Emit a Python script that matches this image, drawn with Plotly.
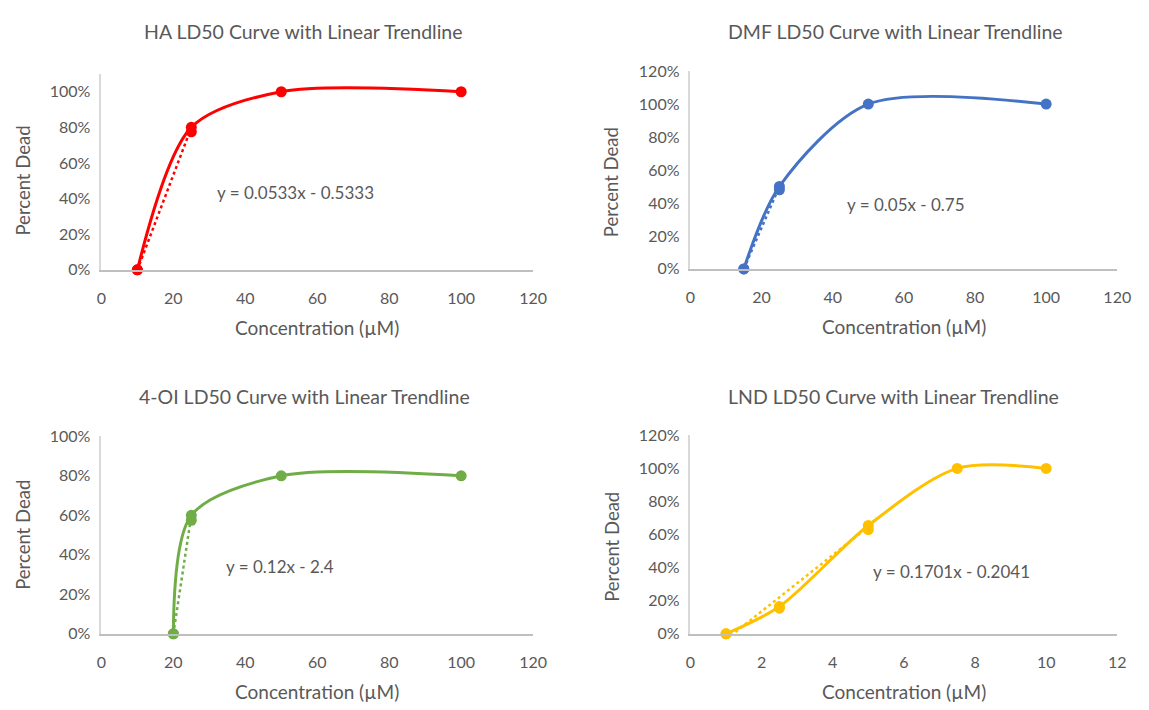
import plotly.graph_objects as go
import numpy as np

# ---------------- data ----------------
titles = ["HA LD50 Curve with Linear Trendline",
          "DMF LD50 Curve with Linear Trendline",
          "4-OI LD50 Curve with Linear Trendline",
          "LND LD50 Curve with Linear Trendline"]
colors = ["#FF0000", "#4472C4", "#70AD47", "#FFC000"]

ha_x = [10, 25, 50, 100]
ha_y = [0.0, 0.80, 1.0, 1.0]
ha_trend_x = [10, 25]
ha_trend_y = [0.0, 0.775]

dmf_x = [15, 25, 50, 100]
dmf_y = [0.0, 0.50, 1.0, 1.0]
dmf_trend_x = [15, 25]
dmf_trend_y = [0.0, 0.48]

oi_x = [20, 25, 50, 100]
oi_y = [0.0, 0.60, 0.80, 0.80]
oi_trend_x = [20, 25]
oi_trend_y = [0.0, 0.575]

lnd_x = [1, 2.5, 5, 7.5, 10]
lnd_y = [0.0, 0.165, 0.655, 1.0, 1.0]
lnd_trend_x = [1, 2.5, 5]
lnd_trend_y = [0.0, 0.155, 0.630]

slopes = [0.0533, 0.05, 0.12, 0.1701]
intercepts = [-0.5333, -0.75, -2.4, -0.2041]
equations = ["y = 0.0533x - 0.5333", "y = 0.05x - 0.75",
             "y = 0.12x - 2.4", "y = 0.1701x - 0.2041"]

x_ranges = [[0, 120], [0, 120], [0, 120], [0, 12]]
x_dticks = [20, 20, 20, 2]
y_ranges = [[0, 1.1], [0, 1.2], [0, 1.0], [0, 1.2]]
y_tickvals = [[0, .2, .4, .6, .8, 1.0],
              [0, .2, .4, .6, .8, 1.0, 1.2],
              [0, .2, .4, .6, .8, 1.0],
              [0, .2, .4, .6, .8, 1.0, 1.2]]
eq_pos = [(54, 0.437), (60.6, 0.39), (49.7, 0.34), (7.35, 0.376)]

series = [(ha_x, ha_y, ha_trend_x, ha_trend_y),
          (dmf_x, dmf_y, dmf_trend_x, dmf_trend_y),
          (oi_x, oi_y, oi_trend_x, oi_trend_y),
          (lnd_x, lnd_y, lnd_trend_x, lnd_trend_y)]

# ---------------- layout geometry (pixels) ----------------
W, H = 1149, 710
# plot area: x-left, x-right, y-pixel of value 0, pixels per unit y
areas = [(98, 537, 267, 183), (697, 1131, 266, 169.3),
         (98, 537, 641, 203), (697, 1131, 641, 170)]
title_pos = [(304, 22), (905, 22), (305, 397), (903, 397)]

FONT = "Lato, Calibri, Carlito, sans-serif"
GRAY = "#595959"

fig = go.Figure()
annotations = []
layout = {}

for i in range(4):
    n = "" if i == 0 else str(i + 1)
    xa, ya = "x" + n, "y" + n
    xs, ys, tx, ty = series[i]
    c = colors[i]
    # smoothed curve with markers
    fig.add_trace(go.Scatter(x=xs, y=ys, mode="lines+markers", xaxis=xa, yaxis=ya,
                             line=dict(color=c, width=3, shape="spline", smoothing=0.85),
                             marker=dict(color=c, size=11), cliponaxis=False,
                             showlegend=False, hoverinfo="x+y"))
    # trendline series markers
    fig.add_trace(go.Scatter(x=tx, y=ty, mode="markers", xaxis=xa, yaxis=ya,
                             marker=dict(color=c, size=11), cliponaxis=False,
                             showlegend=False))
    # linear trendline (dotted)
    lx = np.array([min(tx), max(tx)])
    ly = slopes[i] * lx + intercepts[i]
    fig.add_trace(go.Scatter(x=lx, y=ly, mode="lines", xaxis=xa, yaxis=ya,
                             line=dict(color=c, width=2.5, dash="dot"),
                             showlegend=False))

    xl, xr, y0, ppu = areas[i]
    ytop = y0 - ppu * y_ranges[i][1]
    xd = [xl / W, xr / W]
    yd = [1 - y0 / H, 1 - ytop / H]
    layout["xaxis" + n] = dict(domain=xd, range=x_ranges[i], dtick=x_dticks[i],
                               anchor=ya, showgrid=False, zeroline=False,
                               showline=True, linecolor="#BFBFBF", linewidth=1.5,
                               ticks="", ticklabelstandoff=13,
                               tickfont=dict(family=FONT, size=16, color=GRAY))
    layout["yaxis" + n] = dict(domain=yd, range=y_ranges[i], tickvals=y_tickvals[i],
                               tickformat=".0%", anchor=xa, showgrid=False,
                               zeroline=False, showline=True, linecolor="#D9D9D9",
                               linewidth=1.5, ticks="", ticklabelstandoff=6,
                               tickfont=dict(family=FONT, size=16, color=GRAY))
    # title
    tx_, ty_ = title_pos[i]
    annotations.append(dict(text=titles[i], x=tx_ / W, y=1 - ty_ / H, xref="paper",
                            yref="paper", showarrow=False, xanchor="center",
                            yanchor="middle",
                            font=dict(family=FONT, size=19.5, color=GRAY)))
    # x axis title
    annotations.append(dict(text="Concentration (µM)", x=(xl + xr) / 2 / W,
                            y=1 - (y0 + 59) / H, xref="paper", yref="paper",
                            showarrow=False, xanchor="center", yanchor="middle",
                            font=dict(family=FONT, size=19, color=GRAY)))
    # y axis title
    yc = y0 - ppu * 0.5 * (1.0 if i in (0, 2) else 1.05)
    annotations.append(dict(text="Percent Dead", x=(xl - 80) / W, y=1 - yc / H,
                            xref="paper", yref="paper", showarrow=False,
                            textangle=-90, xanchor="center", yanchor="middle",
                            font=dict(family=FONT, size=18.5, color=GRAY)))
    # equation
    ex, ey = eq_pos[i]
    annotations.append(dict(text=equations[i], x=ex, y=ey, xref=xa, yref=ya,
                            showarrow=False, xanchor="center", yanchor="middle",
                            font=dict(family=FONT, size=17, color=GRAY)))

fig.update_layout(width=W, height=H, margin=dict(l=0, r=0, t=0, b=0),
                  paper_bgcolor="white", plot_bgcolor="white",
                  annotations=annotations, **layout)

fig.write_html("out.html", config={"displayModeBar": False},
               post_script="document.body.style.margin='0px';"
                           "document.body.style.overflow='hidden';")
